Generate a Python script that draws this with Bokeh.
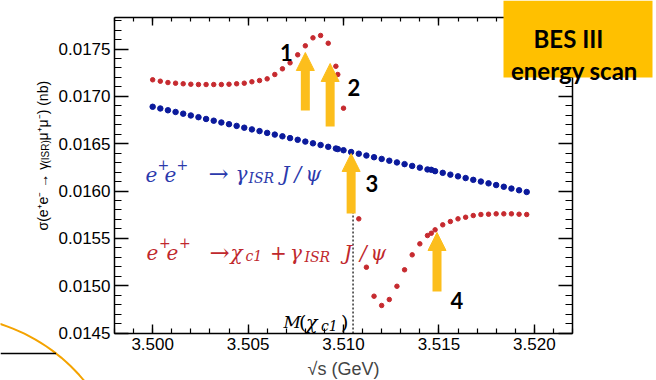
import math
from bokeh.plotting import figure
from bokeh.models import (Range1d, LinearAxis, SingleIntervalTicker, PrintfTickFormatter,
                          CustomJSTickFormatter, Label, Arrow, NormalHead, BoxAnnotation,
                          PolyAnnotation)
from bokeh.embed import file_html
from bokeh.resources import INLINE

# ---------------- data ----------------
energy = [3.5000, 3.5004, 3.5008, 3.5012, 3.5016, 3.5020, 3.5024, 3.5028, 3.5032, 3.5036,
          3.5040, 3.5044, 3.5048, 3.5052, 3.5056, 3.5060, 3.5064, 3.5068, 3.5072, 3.5076,
          3.5080, 3.5084, 3.5088, 3.5092, 3.5096, 3.5100, 3.5104, 3.5108, 3.5112, 3.5116,
          3.5120, 3.5124, 3.5128, 3.5132, 3.5136, 3.5140, 3.5144, 3.5148, 3.5152, 3.5156,
          3.5160, 3.5164, 3.5168, 3.5172, 3.5176, 3.5180, 3.5184, 3.5188, 3.5192, 3.5196]

sigma_with_chic1 = [0.017175, 0.017160, 0.017146, 0.017139, 0.017133, 0.017128, 0.017125, 0.017125,
                    0.017125, 0.017125, 0.017128, 0.017133, 0.017139, 0.017154, 0.017167, 0.017185,
                    0.017231, 0.017291, 0.017354, 0.017439, 0.017534, 0.017618, 0.017643, 0.017561,
                    0.017318, 0.016875, 0.016300, 0.015706, 0.015195, 0.014889, 0.014791, 0.014854,
                    0.014994, 0.015168, 0.015326, 0.015442, 0.015530, 0.015590, 0.015643, 0.015678,
                    0.015706, 0.015723, 0.015741, 0.015752, 0.015755, 0.015759, 0.015759, 0.015759,
                    0.015755, 0.015752]

sigma_isr_only = [0.016890, 0.016872, 0.016853, 0.016835, 0.016817, 0.016798, 0.016780, 0.016761,
                  0.016743, 0.016724, 0.016706, 0.016688, 0.016669, 0.016651, 0.016633, 0.016614,
                  0.016596, 0.016578, 0.016559, 0.016541, 0.016522, 0.016504, 0.016486, 0.016467,
                  0.016449, 0.016431, 0.016412, 0.016394, 0.016375, 0.016357, 0.016339, 0.016320,
                  0.016302, 0.016284, 0.016265, 0.016247, 0.016228, 0.016210, 0.016192, 0.016173,
                  0.016155, 0.016137, 0.016118, 0.016100, 0.016081, 0.016063, 0.016045, 0.016026,
                  0.016008, 0.015990]

scan_energy = [3.5097, 3.5146]
scan_with_chic1 = [0.017231, 0.015554]
scan_isr_only = [0.016443, 0.016224]

arrow_energy = [3.5080, 3.5093, 3.5104, 3.5149]
arrow_names = ["1", "2", "3", "4"]
m_chic1 = 3.5105

x_axis_range = (3.498, 3.522)
y_axis_range = (0.014495, 0.017833)

# ---------------- layout (canvas pixels) ----------------
W, H = 656, 380
FR_L, FR_R, FR_T, FR_B = 114, 572, 17, 333
X0, X1 = x_axis_range
Y0, Y1 = y_axis_range


def dx(px):
    return X0 + (px - FR_L) * (X1 - X0) / (FR_R - FR_L)


def dy(py):
    return Y0 + (FR_B - py) * (Y1 - Y0) / (FR_B - FR_T)


RED = "#C62A2F"
BLUE = "#0B1A9C"
GOLD = "#FCBE1C"
BOX = "#FFC000"
RED_T = "#C0282D"
BLUE_T = "#2B39AC"

p = figure(width=W, height=H, x_range=Range1d(dx(0), dx(W)), y_range=Range1d(dy(H), dy(0)),
           x_axis_type=None, y_axis_type=None, min_border=0,
           output_backend="svg", toolbar_location=None)
p.outline_line_color = None
p.background_fill_color = "white"
p.border_fill_color = "white"

blank = CustomJSTickFormatter(code="return '';")


def style_axis(ax, tin, tmin):
    ax.axis_line_color = "black"
    ax.axis_line_width = 1.5
    ax.major_tick_line_color = "black"
    ax.major_tick_line_width = 1.4
    ax.minor_tick_line_color = "black"
    ax.minor_tick_line_width = 1.2
    ax.major_tick_out = 0
    ax.minor_tick_out = 0
    ax.major_tick_in = tin
    ax.minor_tick_in = tmin
    ax.major_label_text_font = "Liberation Sans"
    ax.major_label_text_font_size = "17px"
    ax.major_label_text_color = "black"


xb = LinearAxis(ticker=SingleIntervalTicker(interval=0.005, num_minor_ticks=5),
                formatter=PrintfTickFormatter(format="%.3f"),
                fixed_location=Y0, bounds=(X0, X1))
style_axis(xb, 9, 5)
xb.major_label_standoff = 4
xb.axis_label = "\u221as (GeV)"
xb.axis_label_text_font = "Liberation Sans"
xb.axis_label_text_font_size = "18px"
xb.axis_label_text_font_style = "normal"
xb.axis_label_standoff = 6
p.add_layout(xb, "below")

xt = LinearAxis(ticker=SingleIntervalTicker(interval=0.005, num_minor_ticks=5), formatter=blank,
                fixed_location=Y1, bounds=(X0, X1))
style_axis(xt, 8, 4)
p.add_layout(xt, "above")

yl = LinearAxis(ticker=SingleIntervalTicker(interval=0.0005, num_minor_ticks=5),
                formatter=PrintfTickFormatter(format="%.4f"),
                fixed_location=X0, bounds=(Y0, Y1))
style_axis(yl, 14, 7)
yl.major_label_standoff = 4
p.add_layout(yl, "left")

yr = LinearAxis(ticker=SingleIntervalTicker(interval=0.0005, num_minor_ticks=5), formatter=blank,
                fixed_location=X1, bounds=(Y0, Y1))
style_axis(yr, 14, 7)
p.add_layout(yr, "right")

# ---------------- data marks ----------------
p.segment(x0=[m_chic1], y0=[Y0], x1=[m_chic1], y1=[dy(205)],
          line_color="black", line_width=1.2, line_dash="2 2")
p.scatter(energy, sigma_isr_only, size=5.5, color=BLUE)
p.scatter(scan_energy, scan_isr_only, size=5.5, color=BLUE)
p.scatter(energy, sigma_with_chic1, size=4.5, color=RED)
p.scatter(scan_energy, scan_with_chic1, size=4.5, color=RED)

# ---------------- arrows ----------------
arrow_px = [(110, 52), (126, 63), (213, 153), (291, 232)]
for e, (pb, pt) in zip(arrow_energy, arrow_px):
    p.add_layout(Arrow(x_start=e, y_start=dy(pb), x_end=e, y_end=dy(pt),
                       line_color=GOLD, line_width=9, line_cap="butt",
                       end=NormalHead(size=18, fill_color=GOLD, line_color=GOLD, line_width=1)))


def put(txt, px, py, size, color="black", font="Liberation Sans", style="normal",
        align="left", angle=0.0):
    p.add_layout(Label(x=dx(px), y=dy(py), text=txt, text_font=font,
                       text_font_size=f"{size}px", text_font_style=style,
                       text_color=color, text_align=align, text_baseline="alphabetic",
                       angle=angle))


num_pos = [(286, 52), (353.5, 87), (371.5, 183), (456.5, 300)]
for name, (px, py) in zip(arrow_names, num_pos):
    put(name, px, py, 22, font="Lato", style="bold", align="center")

MF = "DejaVu Serif"
# blue legend
for t, px, py, sz, st in [("e", 145, 173.5, 20, "italic"), ("+", 157, 163.5, 14, "normal"),
                          ("e", 164, 173.5, 20, "italic"), ("+", 176, 163.5, 14, "normal"),
                          ("\u2192", 208, 173.5, 24, "normal"), ("\u03b3", 235, 173.5, 20, "italic"),
                          ("ISR", 248, 177.5, 14, "italic"), ("J", 281, 173.5, 20, "italic"),
                          ("/", 294, 173.5, 20, "italic"), ("\u03c8", 305, 173.5, 20, "italic")]:
    put(t, px, py, sz, color=BLUE_T, font=MF, style=st)
# red legend
for t, px, py, sz, st in [("e", 146, 252, 20, "italic"), ("+", 158.5, 242, 14, "normal"),
                          ("e", 166, 252, 20, "italic"), ("+", 178.5, 242, 14, "normal"),
                          ("\u2192", 209, 252, 24, "normal"), ("\u03c7", 230, 252, 20, "italic"),
                          ("c1", 245, 255.5, 14, "italic"), ("+", 269.5, 252, 20, "normal"),
                          ("\u03b3", 289.5, 252, 20, "italic"), ("ISR", 304, 256, 14, "italic"),
                          ("J", 343.5, 252, 20, "italic"), ("/", 359.5, 252, 20, "italic"),
                          ("\u03c8", 370, 252, 20, "italic")]:
    put(t, px, py, sz, color=RED_T, font=MF, style=st)
# M(chi_c1)
for t, px, py, sz, st in [("M", 283, 321.7, 17, "italic"), ("(", 298.5, 321.7, 19, "normal"),
                          ("\u03c7", 305.5, 321.7, 19, "italic"), ("c1", 320.5, 325, 14, "italic"),
                          (")", 340.5, 321.7, 19, "normal")]:
    put(t, px, py, sz, color="black", font=MF, style=st)

# y axis title (rotated pieces, read bottom to top)
R = math.pi / 2
put("\u03c3(e\u207ae\u207b \u2192 \u03b3", 42, 230, 14, angle=R)
put("(ISR)", 45, 163, 10, angle=R)
put("\u03bc\u207a\u03bc\u207b) (nb)", 42, 140, 14, angle=R)

# ---------------- slide decorations ----------------
p.add_layout(BoxAnnotation(left=dx(503), right=dx(652), top=dy(0), bottom=dy(77),
                           fill_color=BOX, fill_alpha=1.0, line_color=None))
put("BES III", 568, 38, 24, font="Lato", style="bold", align="center")
put("energy scan", 574, 70, 24, font="Lato", style="bold", align="center")

arc = [(-55 + 180 * math.cos(math.radians(a)), 495 - 180 * math.sin(math.radians(a)))
       for a in range(76, 34, -2)]
path = arc + arc[::-1]
p.add_layout(PolyAnnotation(xs=[dx(x) for x, _ in path], ys=[dy(y) for _, y in path],
                            fill_alpha=0, line_color="#F4A300", line_alpha=1.0, line_width=2))
p.add_layout(PolyAnnotation(xs=[dx(0), dx(55.5)], ys=[dy(353), dy(353)],
                            fill_alpha=0, line_color="black", line_alpha=1.0, line_width=1.5))

open("out.html", "w").write(file_html(p, INLINE))
